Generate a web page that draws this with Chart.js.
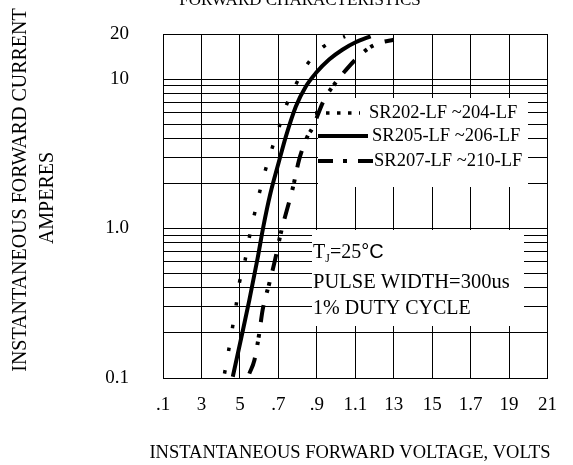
<!DOCTYPE html>
<html>
<head>
<meta charset="utf-8">
<script src="https://cdn.jsdelivr.net/npm/chart.js@4.4.0/dist/chart.umd.min.js"></script>
<style>
  html, body { margin: 0; padding: 0; background: #fff; }
</style>
</head>
<body>
<canvas id="fwdChart" width="573" height="465"></canvas>
<script>
// curves (volts, amperes)
const sr202Volts = [0.42, 0.44, 0.46, 0.48, 0.497, 0.527, 0.548, 0.574, 0.601, 0.632, 0.667, 0.705, 0.742, 0.793, 0.853, 0.936, 1.047];
const sr202Amps  = [0.107, 0.149, 0.212, 0.304, 0.43, 0.615, 0.859, 1.22, 1.72, 2.44, 3.43, 4.81, 6.69, 9.29, 12.7, 16.5, 19.3];

const sr205Volts = [0.463, 0.508, 0.549, 0.592, 0.622, 0.658, 0.701, 0.739, 0.791, 0.843, 0.895, 0.964, 1.033, 1.102, 1.18];
const sr205Amps  = [0.102, 0.188, 0.332, 0.631, 1.03, 1.7, 2.74, 4.12, 6.55, 8.92, 10.96, 13.5, 15.7, 17.6, 19.3];

const sr207Volts = [0.549, 0.575, 0.601, 0.618, 0.653, 0.679, 0.713, 0.777, 0.808, 0.851, 0.877, 0.938, 0.99, 1.067, 1.119, 1.171, 1.223, 1.30];
const sr207Amps  = [0.107, 0.131, 0.20, 0.284, 0.43, 0.587, 0.933, 1.91, 2.88, 4.12, 4.70, 7.26, 9.16, 12.1, 14.2, 16.1, 17.4, 18.3];

const seriesNames = ['SR202-LF ~204-LF', 'SR205-LF ~206-LF', 'SR207-LF ~210-LF'];

const xTickValues = [0.1, 0.3, 0.5, 0.7, 0.9, 1.1, 1.3, 1.5, 1.7, 1.9, 2.1];
const xTickLabels = ['.1', '3', '5', '.7', '.9', '1.1', '13', '15', '1.7', '19', '21'];

const yGridValues = [0.1, 0.2, 0.3, 0.4, 0.5, 0.6, 0.7, 0.8, 0.9, 1, 2, 3, 4, 5, 6, 7, 8, 9, 10, 20];
const yLabelValues = [0.1, 1, 10, 20];
const yTickLabels = ['0.1', '1.0', '10', '20'];

const serif = '"Liberation Serif", "Times New Roman", serif';
const sans = '"Liberation Sans", Arial, sans-serif';

function toPoints(xs, ys) {
  return xs.map((x, i) => ({ x: x, y: ys[i] }));
}

const styles = [
  { width: 3.5, dash: [3.5, 19.5], legendDash: [3.5, 7.5] },
  { width: 4, dash: [], legendDash: [] },
  { width: 4, dash: [17, 13, 3.5, 4, 3.5, 12], legendDash: [15, 10, 4, 11] }
];

// legend + condition text, drawn on top of the plot
const overlay = {
  id: 'overlay',
  beforeDatasetsDraw(chart) {
    const ctx = chart.ctx;
    ctx.save();
    ctx.fillStyle = '#fff';
    ctx.fillRect(318, 98, 210, 89);
    ctx.fillRect(312, 230, 212, 96);
    ctx.restore();
  },
  afterDraw(chart) {
    const ctx = chart.ctx;
    ctx.save();
    ctx.fillStyle = '#000';
    ctx.strokeStyle = '#000';

    // titles
    ctx.textAlign = 'center';
    ctx.textBaseline = 'alphabetic';
    ctx.font = '17px ' + serif;
    ctx.fillText('FORWARD CHARACTERISTICS', 300, 5);
    ctx.font = '18.5px ' + serif;
    ctx.fillText('INSTANTANEOUS FORWARD VOLTAGE, VOLTS', 350, 458);

    ctx.font = '20px ' + serif;
    ctx.textBaseline = 'middle';
    ctx.save();
    ctx.translate(21, 190);
    ctx.rotate(-Math.PI / 2);
    ctx.fillText('INSTANTANEOUS FORWARD CURRENT', 0, 0);
    ctx.restore();
    ctx.save();
    ctx.translate(48, 198);
    ctx.rotate(-Math.PI / 2);
    ctx.fillText('AMPERES', 0, 0);
    ctx.restore();

    // legend
    const rows = [
      { y: 113, x0: 315, x1: 360, tx: 369 },
      { y: 136, x0: 318, x1: 368, tx: 372 },
      { y: 161, x0: 318, x1: 373, tx: 374 }
    ];
    ctx.textAlign = 'left';
    ctx.font = '18.5px ' + serif;
    rows.forEach((r, i) => {
      ctx.beginPath();
      ctx.lineWidth = styles[i].width;
      ctx.setLineDash(styles[i].legendDash);
      ctx.moveTo(r.x0, r.y);
      ctx.lineTo(r.x1, r.y);
      ctx.stroke();
      ctx.setLineDash([]);
      ctx.fillText(seriesNames[i], r.tx, r.y);
    });

    // test conditions
    ctx.textBaseline = 'alphabetic';
    ctx.font = '20px ' + serif;
    let x = 313;
    ctx.fillText('T', x, 258);
    x += ctx.measureText('T').width;
    ctx.font = '12px ' + serif;
    ctx.fillText('J', x, 262);
    x += ctx.measureText('J').width;
    ctx.font = '20px ' + serif;
    ctx.fillText('=25', x, 258);
    x += ctx.measureText('=25').width;
    ctx.font = '20px ' + sans;
    ctx.fillText('\u00B0C', x, 258);
    ctx.font = '20.5px ' + serif;
    ctx.fillText('PULSE WIDTH=300us', 313, 288);
    ctx.font = '20px ' + serif;
    ctx.fillText('1% DUTY CYCLE', 313, 314);
    ctx.restore();
  }
};

const data = {
  datasets: [
    { label: seriesNames[0], data: toPoints(sr202Volts, sr202Amps) },
    { label: seriesNames[1], data: toPoints(sr205Volts, sr205Amps) },
    { label: seriesNames[2], data: toPoints(sr207Volts, sr207Amps) }
  ].map((d, i) => Object.assign(d, {
    borderColor: '#000',
    borderWidth: styles[i].width,
    borderDash: styles[i].dash,
    pointRadius: 0,
    fill: false,
    cubicInterpolationMode: 'monotone'
  }))
};

const config = {
  type: 'line',
  data: data,
  options: {
    responsive: false,
    animation: false,
    layout: { padding: { top: 34, right: 24, bottom: 0, left: 0 } },
    plugins: {
      legend: { display: false },
      tooltip: { enabled: false }
    },
    scales: {
      x: {
        type: 'linear',
        min: 0.1,
        max: 2.1,
        afterBuildTicks: s => { s.ticks = xTickValues.map(v => ({ value: v })); },
        afterFit: s => { s.height = 87; },
        ticks: {
          callback: (v, i) => xTickLabels[i],
          color: '#000',
          font: { family: serif, size: 19 },
          padding: 16,
          maxRotation: 0,
          autoSkip: false
        },
        grid: { color: '#000', lineWidth: 1, drawTicks: false },
        border: { color: '#000', width: 1 }
      },
      y: {
        type: 'logarithmic',
        min: 0.1,
        max: 20,
        afterBuildTicks: s => { s.ticks = yGridValues.map(v => ({ value: v })); },
        afterFit: s => {
          s.width = 163;
          s.paddingTop = 0;
          s.paddingBottom = 0;
        },
        ticks: {
          callback: v => {
            const k = yLabelValues.indexOf(v);
            return k < 0 ? '' : yTickLabels[k];
          },
          color: '#000',
          font: { family: serif, size: 19 },
          padding: 34,
          autoSkip: false
        },
        grid: { color: '#000', lineWidth: 1, drawTicks: false },
        border: { color: '#000', width: 1 }
      }
    }
  },
  plugins: [overlay]
};

const fwdChart = new Chart(document.getElementById('fwdChart'), config);
</script>
</body>
</html>
